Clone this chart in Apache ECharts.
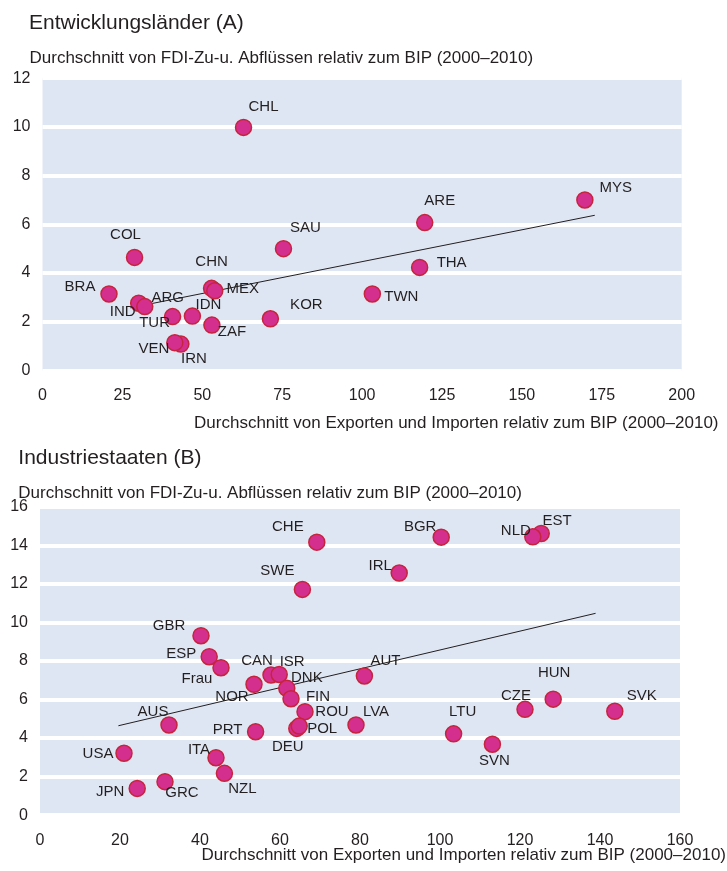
<!DOCTYPE html>
<html>
<head>
<meta charset="utf-8">
<script src="https://cdn.jsdelivr.net/npm/echarts@6/dist/echarts.min.js"></script>
<style>
html,body{margin:0;padding:0;background:#fff;}
#chart{width:727px;height:871px;}
</style>
</head>
<body>
<div id="chart"></div>
<script>
// ---- Panel A: Entwicklungsländer ----
var devNames = ['CHL','COL','SAU','BRA','IND','ARG','CHN','MEX','TUR','IDN','ZAF','KOR','IRN','VEN','ARE','THA','TWN','MYS'];
var devX = [62.9,28.8,75.4,20.8,30.1,32.0,52.9,53.9,40.7,46.9,53.0,71.3,43.3,41.4,119.6,118.0,103.2,169.7];
var devY = [9.98,4.64,5.0,3.14,2.76,2.62,3.37,3.27,2.21,2.23,1.86,2.12,1.08,1.14,6.07,4.23,3.14,7.0];
var devTrendX = [27.5,172.8];
var devTrendY = [2.57,6.37];
var devXTicks = [0,25,50,75,100,125,150,175,200];
var devYTicks = [0,2,4,6,8,10,12];

// ---- Panel B: Industriestaaten ----
var indNames = ['CHE','BGR','EST','NLD','SWE','IRL','GBR','ESP','Frau','CAN','ISR','AUT','NOR','DNK','FIN','HUN','CZE','SVK','ROU','AUS','LVA','DEU','POL','PRT','LTU','SVN','USA','ITA','NZL','GRC','JPN'];
var indX = [69.2,100.3,125.3,123.2,65.6,89.8,40.25,42.3,45.25,57.75,59.8,81.1,53.5,61.7,62.75,128.3,121.25,143.7,66.25,32.25,79,64.2,64.8,53.9,103.4,113.1,21,44,46.1,31.25,24.3];
var indY = [14.16,14.42,14.61,14.44,11.71,12.56,9.31,8.22,7.65,7.27,7.30,7.22,6.79,6.58,6.04,6.02,5.49,5.39,5.37,4.68,4.68,4.50,4.62,4.33,4.22,3.68,3.21,2.98,2.17,1.74,1.39];
var indTrendX = [19.6,138.9];
var indTrendY = [4.64,10.47];
var indXTicks = [0,20,40,60,80,100,120,140,160];
var indYTicks = [0,2,4,6,8,10,12,14,16];

// ---- label placement (layout only, offsets in px from point centre) ----
var devLabelOffsets = {CHL:[20,-21],COL:[-9,-23],SAU:[22,-21],BRA:[-29,-7],IND:[-16,9],ARG:[23,-9],CHN:[0,-26],MEX:[28,-2],TUR:[-18,6],IDN:[16,-11],ZAF:[20,7],KOR:[36,-14],VEN:[-21,6],IRN:[13,15],ARE:[15,-22],THA:[32,-5],TWN:[29,3],MYS:[31,-12]};
var indLabelOffsets = {CHE:[-29,-15],BGR:[-21,-10],NLD:[-17,-6],EST:[16,-13],SWE:[-25,-19],IRL:[-19,-7],GBR:[-32,-10],ESP:[-28,-3],Frau:[-24,11],CAN:[-14,-14],ISR:[13,-13],AUT:[21,-15],NOR:[-22,13],DNK:[20,-10],FIN:[27,-2],HUN:[1,-26],CZE:[-9,-13],SVK:[27,-15],ROU:[27,0],AUS:[-16,-13],LVA:[20,-13],POL:[23,3],DEU:[-9,18],PRT:[-28,-2],LTU:[9,-22],SVN:[2,17],USA:[-26,1],ITA:[-17,-8],NZL:[18,15],GRC:[17,11],JPN:[-27,3]};

var FONT = 'Liberation Sans, Arial, Helvetica, sans-serif';
var TXT = '#231f20';
var BAND = '#dfe6f3';

function pts(names, xs, ys, offs) {
  return names.map(function (n, i) {
    return {
      name: n,
      value: [xs[i], ys[i]],
      label: { offset: offs[n] || [0, 0] }
    };
  });
}
function line(xs, ys) {
  return xs.map(function (x, i) { return [x, ys[i]]; });
}

var scatterStyle = {
  type: 'scatter',
  symbol: 'circle',
  symbolSize: 16,
  itemStyle: { color: '#d42f8f', borderColor: '#c6243c', borderWidth: 1.5, opacity: 1 },
  label: {
    show: true,
    position: 'inside',
    formatter: '{b}',
    color: TXT,
    fontSize: 15,
    fontFamily: FONT,
    align: 'center',
    verticalAlign: 'middle'
  },
  emphasis: { disabled: true },
  z: 3
};

function axisX(idx, min, max, interval) {
  return {
    type: 'value', gridIndex: idx, min: min, max: max, interval: interval,
    axisLine: { show: false }, axisTick: { show: false }, splitLine: { show: false },
    axisLabel: { color: TXT, fontSize: 16, fontFamily: FONT, margin: 17 }
  };
}
function axisY(idx, min, max, interval) {
  return {
    type: 'value', gridIndex: idx, min: min, max: max, interval: interval,
    axisLine: { show: false }, axisTick: { show: false },
    splitLine: { show: true, lineStyle: { color: '#ffffff', width: 4 } },
    axisLabel: { color: TXT, fontSize: 16, fontFamily: FONT, margin: 12 }
  };
}

var chart = echarts.init(document.getElementById('chart'), null, { renderer: 'canvas' });
chart.setOption({
  animation: false,
  backgroundColor: '#ffffff',
  textStyle: { fontFamily: FONT },
  grid: [
    { left: 42.5, top: 78.2, width: 639.2, height: 292.2, show: true, backgroundColor: BAND, borderWidth: 0, containLabel: false, outerBoundsMode: 'none' },
    { left: 40, top: 506.7, width: 640, height: 308.5, show: true, backgroundColor: BAND, borderWidth: 0, containLabel: false, outerBoundsMode: 'none' }
  ],
  xAxis: [
    axisX(0, devXTicks[0], devXTicks[devXTicks.length - 1], devXTicks[1] - devXTicks[0]),
    axisX(1, indXTicks[0], indXTicks[indXTicks.length - 1], indXTicks[1] - indXTicks[0])
  ],
  yAxis: [
    axisY(0, devYTicks[0], devYTicks[devYTicks.length - 1], devYTicks[1] - devYTicks[0]),
    axisY(1, indYTicks[0], indYTicks[indYTicks.length - 1], indYTicks[1] - indYTicks[0])
  ],
  graphic: [
    { type: 'text', x: 29, y: 23.7, style: { text: 'Entwicklungsländer (A)', fill: TXT, font: '21px ' + FONT, verticalAlign: 'middle', align: 'left' }, silent: true },
    { type: 'text', x: 29.5, y: 58.3, style: { text: 'Durchschnitt von FDI-Zu-u. Abflüssen relativ zum BIP (2000–2010)', fill: TXT, font: '17px ' + FONT, verticalAlign: 'middle', align: 'left' }, silent: true },
    { type: 'text', x: 718.5, y: 423, style: { text: 'Durchschnitt von Exporten und Importen relativ zum BIP (2000–2010)', fill: TXT, font: '17px ' + FONT, verticalAlign: 'middle', align: 'right' }, silent: true },
    { type: 'text', x: 18.3, y: 458, style: { text: 'Industriestaaten (B)', fill: TXT, font: '21px ' + FONT, verticalAlign: 'middle', align: 'left' }, silent: true },
    { type: 'text', x: 18.3, y: 493, style: { text: 'Durchschnitt von FDI-Zu-u. Abflüssen relativ zum BIP (2000–2010)', fill: TXT, font: '17px ' + FONT, verticalAlign: 'middle', align: 'left' }, silent: true },
    { type: 'text', x: 726, y: 855.5, style: { text: 'Durchschnitt von Exporten und Importen relativ zum BIP (2000–2010)', fill: TXT, font: '17px ' + FONT, verticalAlign: 'middle', align: 'right' }, silent: true }
  ],
  series: [
    {
      type: 'line', xAxisIndex: 0, yAxisIndex: 0, data: line(devTrendX, devTrendY),
      symbol: 'none', lineStyle: { color: TXT, width: 1 }, z: 2, silent: true
    },
    Object.assign({}, scatterStyle, { xAxisIndex: 0, yAxisIndex: 0, data: pts(devNames, devX, devY, devLabelOffsets) }),
    {
      type: 'line', xAxisIndex: 1, yAxisIndex: 1, data: line(indTrendX, indTrendY),
      symbol: 'none', lineStyle: { color: TXT, width: 1 }, z: 2, silent: true
    },
    Object.assign({}, scatterStyle, { xAxisIndex: 1, yAxisIndex: 1, data: pts(indNames, indX, indY, indLabelOffsets) })
  ]
});
</script>
</body>
</html>
